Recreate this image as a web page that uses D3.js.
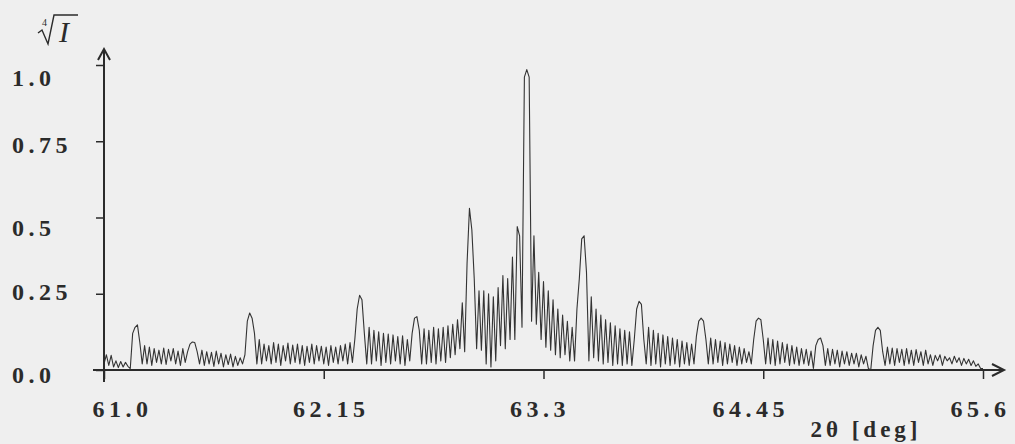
<!DOCTYPE html>
<html>
<head>
<meta charset="utf-8">
<script src="https://cdn.jsdelivr.net/npm/d3@7"></script>
<style>
  body { margin: 0; background: #efefef; }
  svg { display: block; }
</style>
</head>
<body>
<div id="chart"></div>
<script>
// scan is sampled on a regular 2theta grid (start, step in degrees)
const twoThetaStart = 61.0;
const twoThetaStep = 0.0125;

// fourth root of intensity
const rootIntensity = [
  0.02, 0.05, 0.015, 0.048, 0.01, 0.03, 0.008, 0.028, 0.01, 0.025, 0.012, 0.005,
  0.12, 0.14, 0.148, 0.09, 0.02,
  0.08, 0.02, 0.075, 0.015, 0.07, 0.025, 0.065, 0.02, 0.072, 0.018, 0.068, 0.03, 0.07, 0.02, 0.062, 0.015, 0.07, 0.025, 0.06,
  0.085, 0.092, 0.09, 0.06, 0.02,
  0.065, 0.015, 0.06, 0.02, 0.058, 0.012, 0.062, 0.02, 0.055, 0.01, 0.05, 0.018, 0.052, 0.01, 0.045, 0.015, 0.04, 0.02,
  0.05, 0.16, 0.187, 0.17, 0.12, 0.02,
  0.1, 0.02, 0.085, 0.03, 0.08, 0.02, 0.09, 0.025, 0.085, 0.015, 0.08, 0.03, 0.088, 0.02, 0.082, 0.025, 0.085, 0.02, 0.08, 0.015,
  0.078, 0.025, 0.085, 0.02, 0.08, 0.03, 0.078, 0.02, 0.075, 0.015, 0.08, 0.025, 0.075, 0.02, 0.08, 0.03, 0.085, 0.02, 0.09,
  0.025, 0.1, 0.2, 0.245, 0.23, 0.12, 0.02,
  0.14, 0.02, 0.13, 0.03, 0.125, 0.015, 0.12, 0.025, 0.118, 0.02, 0.115, 0.03, 0.11, 0.02, 0.112, 0.015, 0.1,
  0.03, 0.12, 0.17, 0.175, 0.13, 0.02,
  0.135, 0.02, 0.13, 0.025, 0.14, 0.02, 0.135, 0.03, 0.14, 0.025, 0.145, 0.04, 0.15, 0.05, 0.165, 0.07, 0.22,
  0.06, 0.35, 0.53, 0.46, 0.3, 0.07,
  0.26, 0.065, 0.26, 0.02, 0.25, 0.01, 0.24, 0.03, 0.27, 0.08, 0.31, 0.07, 0.3, 0.1, 0.37, 0.1, 0.47, 0.44,
  0.14, 0.96, 0.985, 0.96, 0.16,
  0.44, 0.15, 0.32, 0.1, 0.29, 0.075, 0.26, 0.065, 0.23, 0.05, 0.2, 0.04, 0.18, 0.05, 0.16, 0.03, 0.14, 0.03,
  0.2, 0.3, 0.43, 0.44, 0.32, 0.03,
  0.24, 0.04, 0.2, 0.03, 0.18, 0.02, 0.165, 0.025, 0.155, 0.015, 0.145, 0.02, 0.135, 0.015, 0.13, 0.02, 0.125, 0.015,
  0.1, 0.2, 0.225, 0.215, 0.1, 0.02,
  0.14, 0.015, 0.13, 0.02, 0.12, 0.01, 0.115, 0.02, 0.11, 0.015, 0.105, 0.02, 0.1, 0.01, 0.095, 0.02, 0.09, 0.015, 0.085,
  0.02, 0.11, 0.16, 0.17, 0.16, 0.1, 0.02,
  0.105, 0.02, 0.1, 0.025, 0.095, 0.015, 0.09, 0.02, 0.085, 0.025, 0.08, 0.015, 0.075, 0.02, 0.07, 0.025, 0.06,
  0.02, 0.1, 0.16, 0.17, 0.165, 0.1, 0.02,
  0.105, 0.02, 0.1, 0.015, 0.095, 0.02, 0.09, 0.025, 0.085, 0.015, 0.08, 0.02, 0.075, 0.015, 0.07, 0.02, 0.068, 0.015, 0.062, 0.005,
  0.08, 0.1, 0.105, 0.08, 0.015,
  0.07, 0.015, 0.068, 0.02, 0.065, 0.01, 0.062, 0.02, 0.06, 0.015, 0.055, 0.02, 0.055, 0.01, 0.05, 0.02, 0.045, 0.005,
  0.0, 0.08, 0.13, 0.14, 0.13, 0.06, 0.015,
  0.075, 0.02, 0.072, 0.015, 0.07, 0.025, 0.068, 0.015, 0.07, 0.02, 0.065, 0.015, 0.067, 0.025, 0.06, 0.015, 0.065, 0.02,
  0.05, 0.015, 0.048, 0.03, 0.05, 0.015, 0.045, 0.03, 0.04, 0.02, 0.045, 0.025, 0.04, 0.015, 0.038, 0.02, 0.035, 0.015,
  0.03, 0.012, 0.02, 0.005, 0.005
];

const xTickValues = [61.0, 62.15, 63.3, 64.45, 65.6];
const xTickLabels = ["61.0", "62.15", "63.3", "64.45", "65.6"];
const yTickValues = [0, 0.25, 0.5, 0.75, 1.0];
const yTickLabels = ["0.0", "0.25", "0.5", "0.75", "1.0"];
const xAxisTitle = "2\u03b8 [deg]";

// styling
const width = 1015, height = 444;
const ink = "#2b2b2b";
const labelFont = "'Liberation Serif', 'Times New Roman', serif";
// the scanned labels sit a bit off their ticks
const xLabelNudge = [18, 7, -4, -13, -3];
const yLabelNudge = [3.5, -2.5, 9, 2.5, 11.5];

const svg = d3.select("#chart")
  .append("svg")
  .attr("width", width)
  .attr("height", height)
  .style("background", "#efefef");

const x = d3.scaleLinear().domain([61.0, 65.6]).range([104, 983]);
const y = d3.scaleLinear().domain([0, 1]).range([370, 65]);

// the pattern itself
const line = d3.line()
  .x((d, i) => x(twoThetaStart + i * twoThetaStep))
  .y((d) => y(d));

svg.append("path")
  .datum(rootIntensity)
  .attr("d", line)
  .attr("fill", "none")
  .attr("stroke", "#333")
  .attr("stroke-width", 1.1)
  .attr("stroke-linejoin", "round");

// x axis (ticks hang below the line)
const xAxis = d3.axisBottom(x)
  .tickValues(xTickValues)
  .tickFormat((d, i) => xTickLabels[i])
  .tickSize(9);

const gx = svg.append("g")
  .attr("transform", `translate(0, ${y(0)})`)
  .call(xAxis);
gx.select(".domain").remove();
gx.selectAll(".tick line").attr("stroke", ink).attr("stroke-width", 1.5);
gx.selectAll(".tick text")
  .attr("y", 47)
  .attr("dy", null)
  .attr("dx", (d, i) => xLabelNudge[i])
  .attr("fill", ink)
  .style("font-family", labelFont)
  .style("font-weight", "bold")
  .style("font-size", "24px")
  .style("letter-spacing", "4.5px");

// y axis
const yAxis = d3.axisLeft(y)
  .tickValues(yTickValues)
  .tickFormat((d, i) => yTickLabels[i])
  .tickSize(8);

const gy = svg.append("g")
  .attr("transform", `translate(${x(61.0)}, 0)`)
  .call(yAxis);
gy.select(".domain").remove();
gy.selectAll(".tick line").attr("stroke", ink).attr("stroke-width", 1.5);
gy.selectAll(".tick text")
  .attr("x", -92)
  .attr("dy", null)
  .attr("y", (d, i) => yLabelNudge[i] + 8.5)
  .attr("text-anchor", "start")
  .attr("fill", ink)
  .style("font-family", labelFont)
  .style("font-weight", "bold")
  .style("font-size", "24px")
  .style("letter-spacing", "4.5px");

// axis lines with open arrow heads
const x0 = x.range()[0], x1 = x.range()[1], y0 = y(0), yTop = y(1);
svg.append("path")
  .attr("d", `M${x0 - 11},${y0}H${x1 + 21}M${x1 + 9},${y0 - 6}L${x1 + 21},${y0}L${x1 + 9},${y0 + 6}`)
  .attr("fill", "none")
  .attr("stroke", ink)
  .attr("stroke-width", 2);
svg.append("path")
  .attr("d", `M${x0},${y0 + 12}V${yTop - 16}M${x0 - 6},${yTop - 5}L${x0},${yTop - 16}L${x0 + 6},${yTop - 5}`)
  .attr("fill", "none")
  .attr("stroke", ink)
  .attr("stroke-width", 2);

// x axis title
svg.append("text")
  .attr("x", 866)
  .attr("y", 437)
  .attr("text-anchor", "middle")
  .attr("fill", ink)
  .style("font-family", labelFont)
  .style("font-weight", "bold")
  .style("font-size", "23px")
  .style("letter-spacing", "4px")
  .text(xAxisTitle);

// y axis title: fourth root of I
const yTitle = svg.append("g").attr("fill", ink);
yTitle.append("path")
  .attr("d", "M38,33L42,30L48,44L54,15H78")
  .attr("fill", "none")
  .attr("stroke", ink)
  .attr("stroke-width", 1.4);
yTitle.append("text")
  .attr("x", 42)
  .attr("y", 26)
  .style("font-family", labelFont)
  .style("font-size", "10px")
  .text("4");
yTitle.append("text")
  .attr("x", 59)
  .attr("y", 42)
  .style("font-family", labelFont)
  .style("font-style", "italic")
  .style("font-size", "30px")
  .text("I");
</script>
</body>
</html>
